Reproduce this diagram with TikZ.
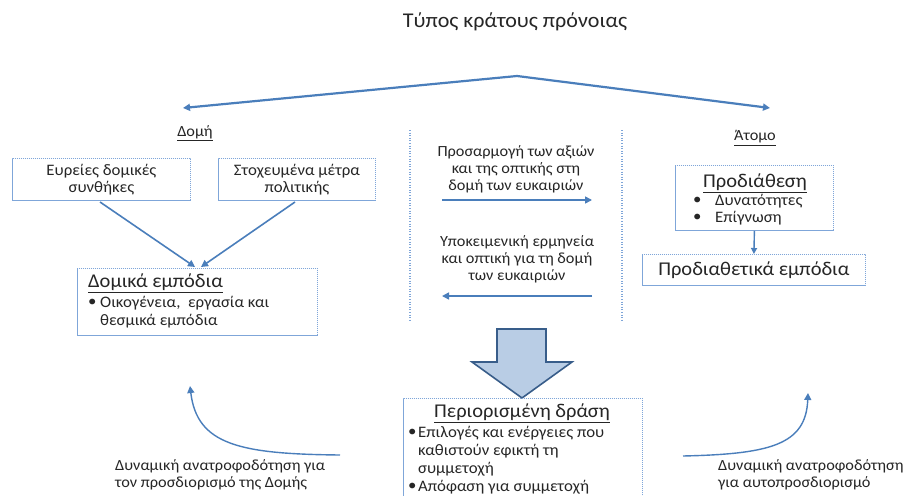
\documentclass[tikz,border=0pt]{standalone}
\usepackage{fontspec}
\setmainfont{Carlito}[FakeStretch=1.05]
\usetikzlibrary{arrows.meta}
\definecolor{arrowblue}{HTML}{4A7EBB}
\definecolor{boxline}{HTML}{7FA6D9}
\definecolor{blockfill}{HTML}{B9CDE5}
\definecolor{blockline}{HTML}{385D8A}
\definecolor{txt}{HTML}{262626}
\tikzset{
  dbox/.style={draw=boxline, dash pattern=on 1.2pt off 0.8pt, line width=0.8pt,
    inner sep=0pt, anchor=north west, align=center, text=txt,
    font=\fontsize{16}{17}\selectfont},
  flow/.style={draw=arrowblue, line width=1.6pt, -{Triangle[length=7pt,width=7pt]}},
  lbl/.style={text=txt, font=\fontsize{15.5}{17}\selectfont, align=center, inner sep=0pt},
  head/.style={text=txt, font=\fontsize{19.5}{20}\selectfont, inner sep=0pt},
  item/.style={text=txt, font=\fontsize{16}{17}\selectfont, inner sep=0pt, anchor=west},
  fb/.style={text=txt, font=\fontsize{15.5}{17}\selectfont, inner sep=0pt, anchor=west},
  sep/.style={draw=boxline, line width=1.4pt, dash pattern=on 1pt off 1.6pt},
}
\begin{document}
\begin{tikzpicture}[x=1pt,y=-1pt]
\useasboundingbox[fill=white] (0,0) rectangle (904,495);

% title and the two branches
\node[text=txt, font=\fontsize{21}{22}\selectfont, inner sep=0pt] (type) at (515,22) {Τύπος κράτους πρόνοιας};
\coordinate (apex) at (517,76);
\coordinate (lefttip) at (183,108);
\coordinate (righttip) at (770,108);
\draw[flow, line width=2.2pt] (apex) -- (lefttip);
\draw[flow, line width=2.2pt] (apex) -- (righttip);

\node[lbl] (domi) at (195,133) {\underline{Δομή}};
\node[lbl] (atomo) at (755,138) {\underline{Άτομο}};

% separators of the middle column
\coordinate (s1a) at (410,130); \coordinate (s1b) at (410,320);
\coordinate (s2a) at (622,130); \coordinate (s2b) at (622,320);
\draw[sep] (s1a) -- (s1b);
\draw[sep] (s2a) -- (s2b);

% structure side
\node[dbox, minimum width=178pt, minimum height=42pt] (broad) at (12,158)
  {Ευρείες δομικές\\συνθήκες};
\node[dbox, minimum width=157pt, minimum height=42pt] (policy) at (218,158)
  {Στοχευμένα μέτρα\\πολιτικής};
\node[dbox, minimum width=240pt, minimum height=67pt] (sbar) at (77,268) {};
\node[head, anchor=west] (sbart) at (88,283) {\underline{Δομικά εμπόδια}};
\node[item] (sb1) at (88,303) {\textbullet};
\node[item] (sb2) at (100,303) {Οικογένεια,\ \ εργασία και};
\node[item] (sb3) at (100,321) {θεσμικά εμπόδια};
\coordinate (bs) at (100,202);
\coordinate (ps) at (295,202);
\coordinate (be) at (195,267);
\coordinate (pe) at (201,267);
\draw[flow] (bs) -- (be);
\draw[flow] (ps) -- (pe);

% middle column
\node[lbl] (adapt) at (516,169) {Προσαρμογή των αξιών\\και της οπτικής στη\\δομή των ευκαιριών};
\coordinate (ra) at (442,200); \coordinate (rb) at (592,200);
\draw[flow] (ra) -- (rb);
\node[lbl] (interp) at (517,259) {Υποκειμενική ερμηνεία\\και οπτική για τη δομή\\των ευκαιριών};
\coordinate (la) at (592,296); \coordinate (lb) at (442,296);
\draw[flow] (la) -- (lb);

% individual side
\node[dbox, minimum width=158pt, minimum height=65pt] (disp) at (675,165) {};
\node[head] (dispt) at (755,183) {\underline{Προδιάθεση}};
\node[item] (d1) at (693,201) {\textbullet};
\node[item] (d2) at (715,201) {Δυνατότητες};
\node[item] (d3) at (693,218) {\textbullet};
\node[item] (d4) at (715,218) {Επίγνωση};
\node[dbox, minimum width=223pt, minimum height=31pt, font=\fontsize{19.5}{20}\selectfont] (dbar) at (642,254)
  {Προδιαθετικά εμπόδια};
\draw[flow, line width=1.4pt, -{Triangle[length=6pt,width=6pt]}] (disp.south) -- (dbar.north);

% block arrow towards the action box
\coordinate (tip) at (522,398);
\filldraw[fill=blockfill, draw=blockline, line width=1.6pt, line join=miter]
  (497,329) -- (546,329) -- (546,362) -- (572,362) -- (tip) -- (472,362) -- (497,362) -- cycle;

% limited action
\node[dbox, minimum width=239pt, minimum height=102pt] (act) at (403,398) {};
\node[head] (actt) at (522,413) {\underline{Περιορισμένη δράση}};
\node[item] (a1) at (408,433) {\textbullet};
\node[item] (a2) at (418,433) {Επιλογές και ενέργειες που};
\node[item] (a3) at (418,451) {καθιστούν εφικτή τη};
\node[item] (a4) at (418,469) {συμμετοχή};
\node[item] (a5) at (408,487) {\textbullet};
\node[item] (a6) at (418,487) {Απόφαση για συμμετοχή};

% feedback loops
\coordinate (fl1) at (340,455);
\coordinate (fl2) at (190,386);
\draw[flow, line width=1.4pt] (fl1) .. controls (240,454) and (197,445) .. (fl2);
\node[fb] (fbl1) at (115,466) {Δυναμική ανατροφοδότηση για};
\node[fb] (fbl2) at (115,483) {τον προσδιορισμό της Δομής};
\coordinate (fr1) at (683,456);
\coordinate (fr2) at (808,393);
\draw[flow, line width=1.4pt] (fr1) .. controls (770,454) and (806,445) .. (fr2);
\node[fb] (fbr1) at (718,466) {Δυναμική ανατροφοδότηση};
\node[fb] (fbr2) at (718,483) {για αυτοπροσδιορισμό};
\end{tikzpicture}
\end{document}
